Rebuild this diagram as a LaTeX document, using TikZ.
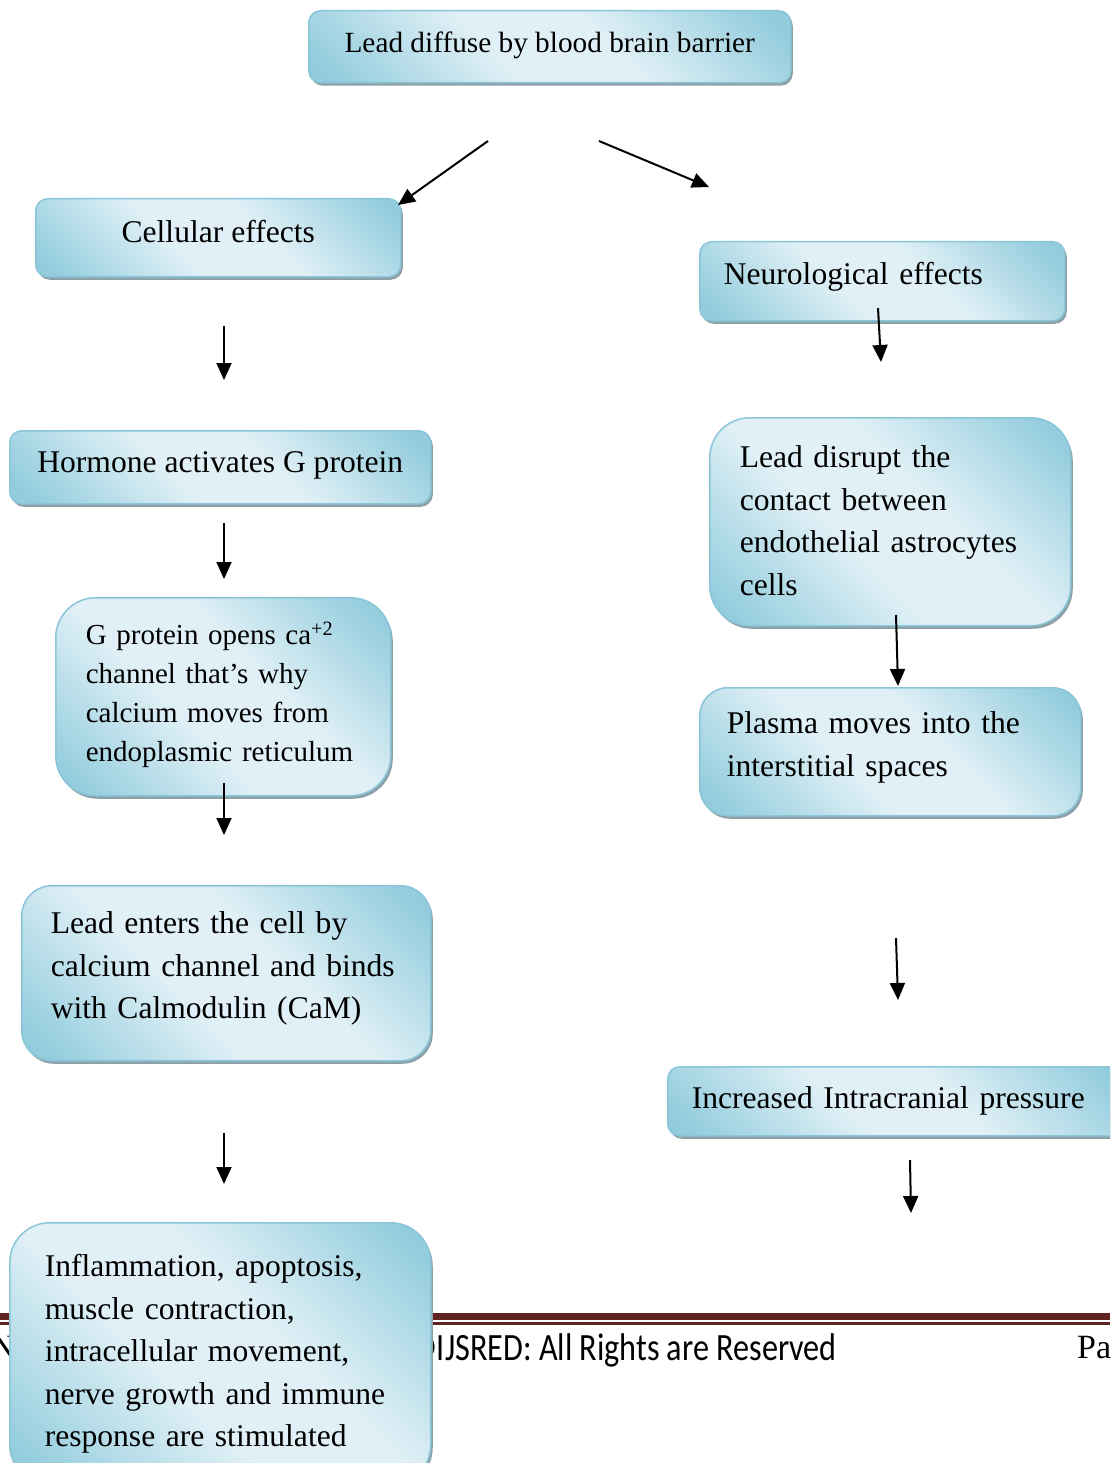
\documentclass[tikz,border=0pt]{standalone}
\usepackage{fontspec}
\setmainfont{Liberation Serif}
\newfontfamily\footfont{Carlito}
\usetikzlibrary{arrows.meta,shadows}
\definecolor{bdark}{RGB}{146,204,221}
\definecolor{blight}{RGB}{224,240,246}
\definecolor{bline}{RGB}{138,198,216}
\definecolor{shadowc}{RGB}{140,160,168}
\definecolor{footred}{RGB}{98,36,35}
\newcommand\lowdp[1]{\rule[-#1pt]{0pt}{0pt}}
\pgfdeclarehorizontalshading{bevel}{100bp}{color(0bp)=(bdark); color(18bp)=(bdark); color(42bp)=(blight); color(58bp)=(blight); color(82bp)=(bdark); color(100bp)=(bdark)}
\tikzset{
  box/.style={draw=bline, line width=1.5pt, shading=bevel, shading angle=45,
    rounded corners=12pt, inner sep=0pt, anchor=north west,
    drop shadow={shadow xshift=2pt, shadow yshift=-3pt, fill=shadowc, opacity=1},
    font=\fontsize{31.6}{42.5}\selectfont},
  arr/.style={-{Triangle[length=17pt,width=15pt]}, line width=2pt},
}
\begin{document}
\begin{tikzpicture}[x=1pt,y=-1pt]
\useasboundingbox (0,0) rectangle (1110,1463);
\clip (0,0) rectangle (1110,1463);
% footer
\fill[footred] (0,1313) rectangle (1110,1320);
\fill[footred] (0,1322) rectangle (1110,1324.5);
\node[font=\footfont\fontsize{32.2}{34}\selectfont, anchor=base east, inner sep=0pt] (foot) at (837,1360) {\scalebox{1}[1.2]{©IJSRED: All Rights are Reserved}};
\node[font=\fontsize{34}{36}\selectfont, anchor=base west, inner sep=0pt] (page) at (1077,1358) {Pa};
\node[font=\fontsize{34}{36}\selectfont, anchor=base east, inner sep=0pt] (issn) at (16,1358) {N};
% boxes
\node[box, minimum width=482, minimum height=72, font=\fontsize{29.3}{36}\selectfont] (top) at (308,10) {Lead diffuse by blood brain barrier\lowdp{9}};
\node[box, minimum width=365, minimum height=78] (cell) at (35,198) {Cellular effects\lowdp{12}};
\node[box, minimum width=365, minimum height=79, text width=317, align=left] (neuro) at (699,241) {Neurological effects\lowdp{15}};
\node[box, minimum width=421, minimum height=73] (horm) at (9,430) {Hormone activates G protein\lowdp{11}};
\node[box, rounded corners=40pt, minimum width=335, minimum height=198, text width=275, align=left, font=\fontsize{29}{39}\selectfont] (gprot) at (55,597) {G protein opens ca\textsuperscript{+2}\\channel that’s why\\calcium moves from\\endoplasmic reticulum\lowdp{10}};
\node[box, rounded corners=40pt, minimum width=361, minimum height=208, text width=301, align=left] (disrupt) at (709,417) {Lead disrupt the\\contact between\\endothelial astrocytes\\cells\lowdp{2}};
\node[box, rounded corners=28pt, minimum width=381, minimum height=128, text width=327, align=left] (plasma) at (699,687) {Plasma moves into the\\interstitial spaces\lowdp{15}};
\node[box, rounded corners=30pt, minimum width=409, minimum height=175, text width=351, align=left] (enters) at (21,885) {Lead enters the cell by\\calcium channel and binds\\with Calmodulin (CaM)\lowdp{16}};
\node[box, minimum width=458, minimum height=69, text width=410, align=left] (icp) at (667,1066) {Increased Intracranial pressure};
\node[box, rounded corners=40pt, minimum width=421, minimum height=262, text width=351, align=left] (infl) at (9,1222) {Inflammation, apoptosis,\\muscle contraction,\\intracellular movement,\\nerve growth and immune\\response are stimulated};
% arrow end points
\coordinate (a1s) at (488,141); \coordinate (a1e) at (398,205);
\coordinate (a2s) at (599,141); \coordinate (a2e) at (709,187);
\coordinate (a3s) at (224,326); \coordinate (a3e) at (224,380);
\coordinate (a4s) at (878,308); \coordinate (a4e) at (881,362);
\coordinate (a5s) at (224,523); \coordinate (a5e) at (224,579);
\coordinate (a6s) at (896,615); \coordinate (a6e) at (898,686);
\coordinate (a7s) at (224,783); \coordinate (a7e) at (224,835);
\coordinate (a8s) at (896,938); \coordinate (a8e) at (898,1000);
\coordinate (a9s) at (224,1133); \coordinate (a9e) at (224,1184);
\coordinate (a10s) at (910,1160); \coordinate (a10e) at (911,1213);
\foreach \i in {1,...,10} \draw[arr] (a\i s) -- (a\i e);
\end{tikzpicture}
\end{document}
